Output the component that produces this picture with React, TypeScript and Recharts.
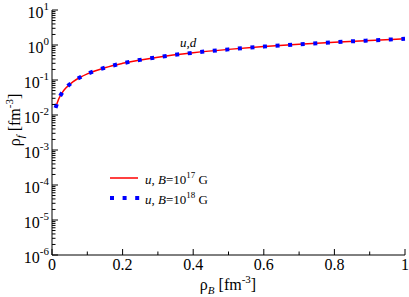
import { LineChart, Line, XAxis, YAxis } from 'recharts';

// densities
const rhoB = [0.01, 0.02, 0.03, 0.04, 0.06, 0.08, 0.1, 0.15, 0.2, 0.3, 0.4, 0.5, 0.6, 0.7, 0.8, 0.9, 1.0];
const uB17 = [0.016, 0.03, 0.045, 0.06, 0.09, 0.12, 0.15, 0.225, 0.3, 0.45, 0.6, 0.75, 0.9, 1.05, 1.2, 1.35, 1.5];
const uB18 = [0.016, 0.03, 0.045, 0.06, 0.09, 0.12, 0.15, 0.225, 0.3, 0.45, 0.6, 0.75, 0.9, 1.05, 1.2, 1.35, 1.5];

const xTicks = [0, 0.1, 0.2, 0.3, 0.4, 0.5, 0.6, 0.7, 0.8, 0.9, 1];
const xTickLabels: Record<string, string> = { '0': '0', '0.2': '0.2', '0.4': '0.4', '0.6': '0.6', '0.8': '0.8', '1': '1' };
const yExponents = [-6, -5, -4, -3, -2, -1, 0, 1];

const yTicks: number[] = [];
yExponents.forEach((e) => {
  yTicks.push(Math.pow(10, e));
  if (e < 1) for (let m = 2; m <= 9; m++) yTicks.push(m * Math.pow(10, e));
});

const data = rhoB.map((x, i) => ({ x, b17: uB17[i], b18: uB18[i] }));

const FONT = 'Liberation Serif, Times New Roman, serif';
const AX = '#000';
const txt = { fontFamily: FONT };

const isDecade = (v: number) => Math.abs(Math.log10(v) - Math.round(Math.log10(v))) < 1e-6;

const BottomTick = (props: any) => {
  const { x, y, payload } = props;
  const lbl = xTickLabels[String(payload.value)];
  return (
    <g>
      <line x1={x} x2={x} y1={y} y2={y - (lbl ? 6 : 3.5)} stroke={AX} />
      {lbl && (
        <text x={x} y={y + 15} textAnchor="middle" style={txt} fontSize={16} fill="#000">{lbl}</text>
      )}
    </g>
  );
};

const TopTick = (props: any) => {
  const { x, y, payload } = props;
  const major = xTickLabels[String(payload.value)];
  return <line x1={x} x2={x} y1={y} y2={y + (major ? 6 : 3.5)} stroke={AX} />;
};

const LeftTick = (props: any) => {
  const { x, y, payload } = props;
  const major = isDecade(payload.value);
  return (
    <g>
      <line x1={x} x2={x + (major ? 6 : 3.5)} y1={y} y2={y} stroke={AX} />
      {major && (
        <text x={x - 3} y={y + 8} textAnchor="end" style={txt} fontSize={16} fill="#000">
          10<tspan dy={-8} fontSize={11}>{Math.round(Math.log10(payload.value))}</tspan>
        </text>
      )}
    </g>
  );
};

const RightTick = (props: any) => {
  const { x, y, payload } = props;
  const major = isDecade(payload.value);
  return <line x1={x} x2={x - (major ? 6 : 3.5)} y1={y} y2={y} stroke={AX} />;
};

export default function App() {
  return (
    <div style={{ position: 'absolute', left: 0, top: 0, width: 409, height: 297, background: '#fff', fontFamily: FONT }}>
      <LineChart width={409} height={297} data={data} margin={{ top: 10, right: 4, bottom: 0, left: 0 }}>
        <XAxis dataKey="x" type="number" domain={[0, 1]} ticks={xTicks} interval={0} height={42}
          axisLine={{ stroke: AX }} tickLine={false} tickSize={0} tickMargin={0} tick={<BottomTick />} />
        <XAxis xAxisId="top" orientation="top" dataKey="x" type="number" domain={[0, 1]} ticks={xTicks} interval={0} height={0}
          axisLine={{ stroke: AX }} tickLine={false} tickSize={0} tickMargin={0} tick={<TopTick />} />
        <YAxis yAxisId="left" type="number" scale="log" domain={[1e-6, 10]} allowDataOverflow ticks={yTicks} interval={0} width={52}
          axisLine={{ stroke: AX }} tickLine={false} tickSize={0} tickMargin={0} tick={<LeftTick />} />
        <YAxis yAxisId="right" orientation="right" type="number" scale="log" domain={[1e-6, 10]} allowDataOverflow ticks={yTicks} interval={0} width={0}
          axisLine={{ stroke: AX }} tickLine={false} tickSize={0} tickMargin={0} tick={<RightTick />} />
        <Line yAxisId="left" type="monotone" dataKey="b17" stroke="#ff0000" strokeWidth={1.5} dot={false} isAnimationActive={false} />
        <Line yAxisId="left" type="monotone" dataKey="b18" stroke="#0000ff" strokeWidth={4} strokeDasharray="4 8.6" dot={false} isAnimationActive={false} />
      </LineChart>
      <svg width={409} height={297} style={{ position: 'absolute', left: 0, top: 0, pointerEvents: 'none', fontFamily: FONT }}>
        <text x={20} y={120} transform="rotate(-90 20 120)" textAnchor="middle" fontSize={16} fill="#000">
          ρ<tspan dy={4} fontSize={11} fontStyle="italic">f</tspan><tspan dy={-4}> [fm</tspan><tspan dy={-7} fontSize={11}>-3</tspan><tspan dy={7}>]</tspan>
        </text>
        <text x={228} y={290} textAnchor="middle" fontSize={16} fill="#000">
          ρ<tspan dy={4} fontSize={11} fontStyle="italic">B</tspan><tspan dy={-4}> [fm</tspan><tspan dy={-7} fontSize={11}>-3</tspan><tspan dy={7}>]</tspan>
        </text>
        <text x={180} y={47} fontSize={13} fontStyle="italic" fill="#000">u,d</text>
        <line x1={110} x2={138} y1={178} y2={178} stroke="#ff0000" strokeWidth={1.5} />
        <text x={145} y={184} fontSize={13} fill="#000">
          <tspan fontStyle="italic">u</tspan>, <tspan fontStyle="italic">B</tspan>=10<tspan dy={-6} fontSize={9}>17</tspan><tspan dy={6}> G</tspan>
        </text>
        <line x1={110} x2={140} y1={198} y2={198} stroke="#0000ff" strokeWidth={4} strokeDasharray="4 8.6" />
        <text x={145} y={204} fontSize={13} fill="#000">
          <tspan fontStyle="italic">u</tspan>, <tspan fontStyle="italic">B</tspan>=10<tspan dy={-6} fontSize={9}>18</tspan><tspan dy={6}> G</tspan>
        </text>
      </svg>
    </div>
  );
}
